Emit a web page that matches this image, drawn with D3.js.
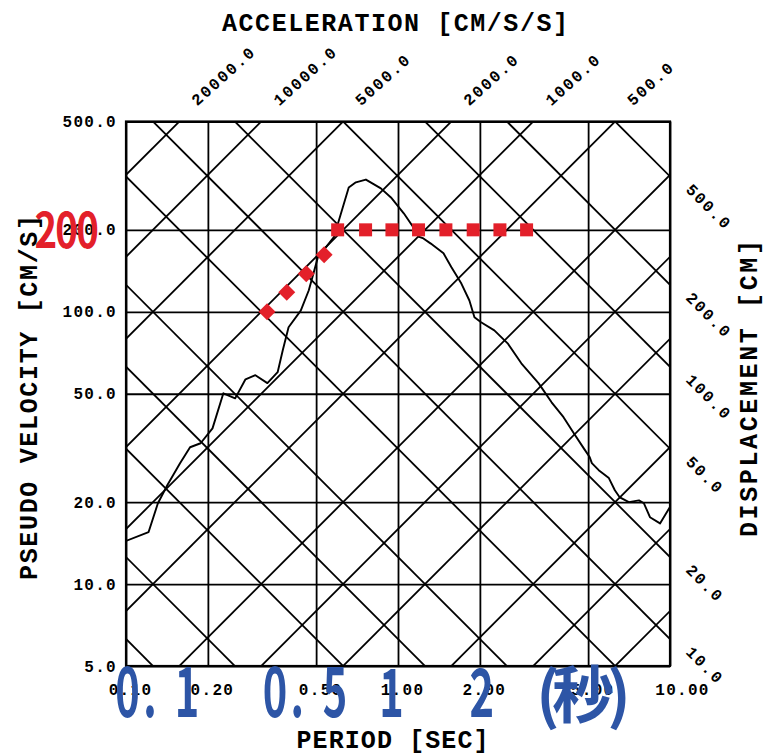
<!DOCTYPE html>
<html>
<head>
<meta charset="utf-8">
<script src="https://cdn.jsdelivr.net/npm/d3@7"></script>
<style>
  html, body { margin: 0; padding: 0; background: #fff; }
  svg { display: block; }
</style>
</head>
<body>
<svg id="chart" width="764" height="755"></svg>
<script>
// Tripartite response spectrum: period vs pseudo velocity on log axes,
// with constant-acceleration and constant-displacement diagonals.

const periodTicks = [0.1, 0.2, 0.5, 1, 2, 5, 10];
const periodLabels = ["0.10", "0.20", "0.50", "1.00", "2.00", "5.00", "10.00"];
const velocityTicks = [5, 10, 20, 50, 100, 200, 500];
const velocityLabels = ["5.0", "10.0", "20.0", "50.0", "100.0", "200.0", "500.0"];

// diagonal grid values
const accelGrid = [5, 10, 20, 50, 100, 200, 500, 1000, 2000, 5000, 10000, 20000];
const accelLabelValues = [20000, 10000, 5000, 2000, 1000, 500];
const accelLabels = ["20000.0", "10000.0", "5000.0", "2000.0", "1000.0", "500.0"];
const dispGrid = [0.1, 0.2, 0.5, 1, 2, 5, 10, 20, 50, 100, 200, 500];
const dispLabelValues = [500, 200, 100, 50, 20, 10];
const dispLabels = ["500.0", "200.0", "100.0", "50.0", "20.0", "10.0"];

// response spectrum (period s, pseudo velocity cm/s)
const spectrumPeriod = [0.100, 0.121, 0.131, 0.142, 0.158, 0.172, 0.188, 0.208, 0.228, 0.252,
  0.275, 0.299, 0.331, 0.361, 0.377, 0.396, 0.439, 0.470, 0.507, 0.581,
  0.659, 0.700, 0.762, 0.865, 0.942, 1.05, 1.14, 1.19, 1.24, 1.32,
  1.47, 1.57, 1.71, 1.83, 1.91, 2.02, 2.26, 2.53, 2.84, 3.29,
  3.67, 4.06, 4.43, 4.82, 5.07, 5.16, 5.47, 5.96, 6.27, 6.54,
  7.06, 7.69, 8.02, 8.44, 9.19, 10.0];
const spectrumVelocity = [14.4, 15.5, 19.8, 23.1, 27.8, 31.8, 32.9, 37.3, 50.2, 48.1,
  56.5, 58.5, 54.7, 60.0, 72.2, 87.7, 101, 120, 158, 188,
  286, 299, 306, 284, 263, 230, 204, 189, 186, 178,
  164, 146, 127, 110, 95.5, 91.5, 85.5, 76.6, 64.7, 54.6,
  46.5, 41.0, 35.8, 31.5, 29.2, 27.8, 26.2, 24.5, 22.1, 20.8,
  20.0, 20.3, 19.8, 17.6, 16.7, 19.2];

// design spectrum markers
const designVelocity = 200;
const rampPeriod = [0.33, 0.39, 0.46, 0.535];
const rampVelocity = [100, 118, 138, 162];
const plateauPeriod = [0.60, 0.76, 0.95, 1.19, 1.50, 1.89, 2.37, 2.97];

// period call-outs
const notePeriods = [0.1, 0.5, 1, 2];
const noteTexts = ["0. 1", "0. 5", "1", "2"];
const unitNote = "(秒)";

const TWO_PI = 2 * Math.PI;
const M = { left: 126, right: 670, top: 121.5, bottom: 666 };
const x = d3.scaleLog().domain([0.1, 10]).range([M.left, M.right]);
const y = d3.scaleLog().domain([5, 500]).range([M.bottom, M.top]);

const svg = d3.select("#chart");
const MONO = "'Liberation Mono', 'DejaVu Sans Mono', monospace";
const CJK = "'Noto Sans CJK JP', 'Noto Sans CJK SC', sans-serif";

svg.append("rect").attr("width", 764).attr("height", 755).attr("fill", "#fff");

svg.append("defs").append("clipPath").attr("id", "plot-clip")
  .append("rect")
  .attr("x", M.left).attr("y", M.top)
  .attr("width", M.right - M.left).attr("height", M.bottom - M.top);

// ---- rectangular grid through the axes ----
const yAxis = d3.axisLeft(y)
  .tickValues(velocityTicks)
  .tickFormat(d => velocityLabels[velocityTicks.indexOf(d)])
  .tickSizeInner(-(M.right - M.left))
  .tickSizeOuter(0)
  .tickPadding(9);
const gy = svg.append("g").attr("transform", `translate(${M.left},0)`).call(yAxis);

const xAxis = d3.axisBottom(x)
  .tickValues(periodTicks)
  .tickFormat(d => periodLabels[periodTicks.indexOf(d)])
  .tickSizeInner(-(M.bottom - M.top))
  .tickSizeOuter(0)
  .tickPadding(18);
const gx = svg.append("g").attr("transform", `translate(0,${M.bottom})`).call(xAxis);

[gx, gy].forEach(g => {
  g.select(".domain").remove();
  g.selectAll(".tick line").attr("stroke", "#000").attr("stroke-width", 1.8);
  g.selectAll(".tick text")
    .attr("fill", "#000")
    .attr("font-family", MONO)
    .attr("font-weight", 700)
    .attr("font-size", 16)
    .attr("letter-spacing", 1.3);
});
gx.selectAll(".tick text").attr("dx", d => d === 10 ? 12 : 4);

// ---- diagonal grid: constant acceleration and displacement ----
const line = d3.line().x(d => x(d[0])).y(d => y(d[1]));
const diag = svg.append("g").attr("clip-path", "url(#plot-clip)")
  .attr("fill", "none").attr("stroke", "#000").attr("stroke-width", 1.8);

diag.selectAll("path.accel").data(accelGrid).join("path")
  .attr("class", "accel")
  .attr("d", A => line(x.domain().map(T => [T, A * T / TWO_PI])));

diag.selectAll("path.disp").data(dispGrid).join("path")
  .attr("class", "disp")
  .attr("d", D => line(x.domain().map(T => [T, TWO_PI * D / T])));

// acceleration labels along the top, continuing each diagonal
const labelStyle = sel => sel
  .attr("font-family", MONO).attr("font-weight", 700)
  .attr("font-size", 16).attr("letter-spacing", 1.8).attr("fill", "#000");

svg.append("g").selectAll("text").data(accelLabelValues).join("text")
  .attr("transform", A => {
    const px = x(TWO_PI * 500 / A);
    return `translate(${px + 18},${M.top - 15}) rotate(-42)`;
  })
  .call(labelStyle)
  .text((A, i) => accelLabels[i]);

// displacement labels along the right edge
svg.append("g").selectAll("text").data(dispLabelValues).join("text")
  .attr("transform", D => {
    const py = y(TWO_PI * D / 10);
    return `translate(${M.right + 15},${py + 14}) rotate(45)`;
  })
  .call(labelStyle)
  .text((D, i) => dispLabels[i]);

// ---- spectrum curve ----
svg.append("path")
  .datum(spectrumPeriod.map((T, i) => [T, spectrumVelocity[i]]))
  .attr("clip-path", "url(#plot-clip)")
  .attr("fill", "none").attr("stroke", "#000").attr("stroke-width", 1.9)
  .attr("stroke-linejoin", "round")
  .attr("d", line);

// plot frame
svg.append("rect")
  .attr("x", M.left).attr("y", M.top)
  .attr("width", M.right - M.left).attr("height", M.bottom - M.top)
  .attr("fill", "none").attr("stroke", "#000").attr("stroke-width", 2.2);

// ---- design spectrum markers ----
const RED = "#e3202a";
const markers = svg.append("g").attr("fill", RED);
markers.selectAll("rect.ramp").data(rampPeriod).join("rect")
  .attr("class", "ramp")
  .attr("x", -6).attr("y", -6).attr("width", 12).attr("height", 12)
  .attr("transform", (T, i) => `translate(${x(T)},${y(rampVelocity[i])}) rotate(45)`);
markers.selectAll("rect.plateau").data(plateauPeriod).join("rect")
  .attr("class", "plateau")
  .attr("x", T => x(T) - 6.5).attr("y", y(designVelocity) - 6.5)
  .attr("width", 13).attr("height", 13);

// condensed lettering: each character centred on its own x
function condensedText(parent, str, centers, baseline, size, sx, family, color) {
  parent.append("text")
    .attr("transform", `translate(0,${baseline}) scale(${sx},1)`)
    .attr("x", centers.map(c => (c / sx).toFixed(2)).join(" "))
    .attr("y", 0)
    .attr("text-anchor", "middle")
    .attr("font-family", family)
    .attr("font-weight", 700)
    .attr("font-size", size)
    .attr("fill", color)
    .text(str);
}

// design level call-out
condensedText(svg, String(designVelocity), [45.8, 66.5, 87.5],
  y(designVelocity) + 18.5, 48, 0.8, CJK, RED);

// period call-outs under the axis
const BLUE = "#2d55a6";
const noteOffsets = [[1.5, 24, 39, 61], [-41, -18.8, -8, 19], [-6.5], [2]];
const notes = svg.append("g");
notePeriods.forEach((T, i) => {
  condensedText(notes, noteTexts[i], noteOffsets[i].map(o => x(T) + o), 717, 67, 0.62, CJK, BLUE);
});
condensedText(notes, unitNote, [548, 583, 619], 718, 62, 1, CJK, BLUE);

// ---- axis titles ----
const titleStyle = sel => sel
  .attr("font-family", MONO).attr("font-weight", 700)
  .attr("font-size", 25).attr("fill", "#000")
  .attr("text-anchor", "middle").attr("lengthAdjust", "spacing");

svg.append("text").call(titleStyle)
  .attr("x", 395).attr("y", 31).attr("textLength", 346)
  .text("ACCELERATION [CM/S/S]");
svg.append("text").call(titleStyle)
  .attr("x", 392.5).attr("y", 748).attr("textLength", 192)
  .text("PERIOD [SEC]");
svg.append("text").call(titleStyle)
  .attr("transform", "translate(37,397.5) rotate(-90)").attr("textLength", 365)
  .text("PSEUDO VELOCITY [CM/S]");
svg.append("text").call(titleStyle)
  .attr("transform", "translate(757,388.5) rotate(-90)").attr("textLength", 297)
  .text("DISPLACEMENT [CM]");
</script>
</body>
</html>
